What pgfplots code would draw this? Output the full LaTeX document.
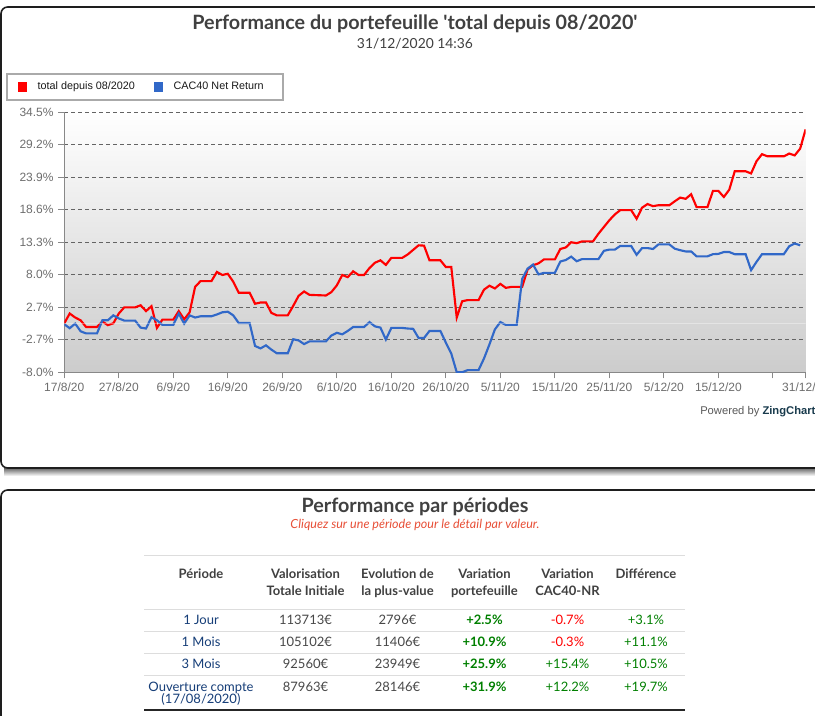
\documentclass[border=0pt]{standalone}
\usepackage{pgfplots}
\pgfplotsset{compat=1.18}
\usepackage{fontspec}
\setmainfont{Lato}
\newfontfamily\arial{Liberation Sans}

\definecolor{zred}{RGB}{255,0,0}
\definecolor{zblue}{RGB}{49,104,200}
\definecolor{titlegray}{RGB}{64,64,64}
\definecolor{labelgray}{RGB}{110,110,110}
\definecolor{gridgray}{RGB}{100,100,100}
\definecolor{axisgray}{RGB}{136,136,136}
\definecolor{legendgray}{RGB}{170,170,170}
\definecolor{linkblue}{RGB}{22,62,120}
\definecolor{posgreen}{RGB}{0,128,0}
\definecolor{negred}{RGB}{255,0,0}
\definecolor{hintred}{RGB}{232,80,56}
\definecolor{rulegray}{RGB}{221,221,221}
\definecolor{valgray}{RGB}{72,72,72}
\definecolor{zingblue}{RGB}{24,58,76}
\definecolor{panelborder}{RGB}{30,30,30}

% daily performance, day 0 = 17/08/2020
\pgfplotstableread{
day val
0 0.0
1 1.6
2 0.95
3 0.5
4 -0.6
6 -0.6
7 0.3
8 -0.3
9 0.0
10 1.6
11 2.6
13 2.6
14 2.95
15 2.0
16 2.8
17 -0.75
18 0.6
20 0.6
21 2.0
22 0.65
23 1.8
24 5.95
25 6.9
27 6.9
28 8.4
29 7.9
30 8.1
31 6.8
32 5.0
34 5.0
35 3.2
36 3.4
37 3.4
38 1.7
39 1.3
41 1.3
42 2.85
43 4.5
44 5.2
45 4.65
48 4.55
49 5.1
50 6.2
51 7.9
52 7.55
53 8.5
54 7.9
55 7.9
56 9.05
57 9.9
58 10.3
59 9.55
60 10.7
62 10.7
63 11.25
64 12.0
65 12.75
66 12.7
67 10.3
69 10.3
70 9.2
71 9.2
72 0.95
73 3.6
74 3.8
76 3.8
77 5.5
78 6.15
79 5.7
80 6.45
81 5.8
82 5.95
84 5.95
85 8.8
86 9.5
87 9.8
88 10.45
90 10.45
91 12.15
92 12.4
93 13.25
94 13.1
95 13.4
97 13.4
98 14.65
99 15.75
100 16.85
101 17.8
102 18.5
104 18.5
105 17.1
106 18.9
107 19.5
108 19.15
109 19.3
111 19.3
112 19.95
113 20.55
114 20.35
115 21.1
116 19.0
118 19.0
119 21.65
120 21.65
121 20.65
122 21.85
123 24.85
125 24.85
126 24.5
127 26.5
128 27.65
129 27.3
132 27.3
133 27.75
134 27.45
135 28.55
136 31.7
}\portefeuille

\pgfplotstableread{
day val
0 -0.15
1 -0.8
2 -0.05
3 -1.3
4 -1.65
6 -1.65
7 0.5
8 0.5
9 1.3
10 0.8
11 0.45
13 0.45
14 -0.7
15 -0.85
16 1.0
17 0.5
18 -0.25
20 -0.25
21 1.6
22 -0.05
23 1.3
24 0.95
25 1.15
27 1.15
28 1.45
29 1.8
30 1.9
31 1.3
32 0.05
34 0.05
35 -3.7
36 -4.1
37 -3.6
38 -4.3
39 -4.9
41 -4.9
42 -2.6
43 -2.8
44 -3.4
45 -2.95
48 -2.95
49 -2.0
50 -1.55
51 -1.8
52 -1.25
53 -0.6
55 -0.6
56 0.2
57 -0.5
58 -0.7
59 -2.65
60 -0.75
62 -0.75
63 -0.85
64 -0.9
65 -2.4
66 -2.4
67 -1.25
69 -1.25
70 -3.15
71 -4.95
72 -8.0
73 -8.0
74 -7.65
76 -7.65
77 -5.75
78 -3.45
79 -1.0
80 0.2
81 -0.25
83 -0.25
84 7.25
85 8.95
86 9.6
87 8.0
88 8.25
90 8.25
91 10.1
92 10.35
93 10.9
94 10.15
95 10.5
98 10.5
99 11.85
100 12.05
101 12.05
102 12.65
104 12.65
105 11.2
106 12.3
107 12.3
108 12.15
109 12.9
111 12.9
112 12.2
113 11.95
114 11.75
115 11.75
116 10.95
118 10.95
119 11.3
120 11.35
121 11.65
122 11.65
123 11.3
125 11.3
126 8.7
127 10.05
128 11.3
129 11.3
132 11.3
133 12.6
134 13.05
135 12.75
}\cac

\tikzset{
  td/.style={anchor=base, inner sep=0pt, font=\fontsize{9.75pt}{11pt}\selectfont, text=valgray},
  th/.style={td, font=\bfseries\fontsize{9.75pt}{11pt}\selectfont, text=titlegray},
  tp/.style={td, text=linkblue},
  tg/.style={td, text=posgreen, font=\bfseries\fontsize{9.75pt}{11pt}\selectfont},
}

\begin{document}
\begin{tikzpicture}
\useasboundingbox (0pt,0pt) rectangle (611.25pt,-537pt);
\fill[white] (0pt,0pt) rectangle (611.25pt,-537pt);

% panels (pixel coordinates)
\begin{scope}[x=0.75pt,y=-0.75pt]
  \clip (0,0) rectangle (815,716);
  \shade[top color=black!60, bottom color=white] (4,468) rectangle (840,476);
  \draw[panelborder, line width=1.2pt, fill=white, rounded corners=5pt]
    (850,7) -- (1,7) -- (1,468) -- (850,468);
  \draw[panelborder, line width=1.2pt, fill=white, rounded corners=5pt]
    (850,490) -- (1,490) -- (1,740);
\end{scope}

\begin{axis}[
  at={(48.2pt,-279.2pt)}, anchor=south west,
  scale only axis, width=556pt, height=195pt,
  xmin=0, xmax=136, ymin=-8, ymax=34.5,
  axis x line*=bottom, axis y line*=left,
  axis line style={draw=axisgray, line width=0.75pt, -},
  axis background/.style={shade, top color=white, bottom color=black!20},
  xtick={0,10,20,30,40,50,60,70,80,90,100,110,120,130,136},
  xticklabels={17/8/20,27/8/20,6/9/20,16/9/20,26/9/20,6/10/20,16/10/20,26/10/20,5/11/20,15/11/20,25/11/20,5/12/20,15/12/20,{},31/12/20},
  ytick={-8,-2.6875,2.625,7.9375,13.25,18.5625,23.875,29.1875,34.5},
  yticklabels={-8.0\%,-2.7\%,2.7\%,8.0\%,13.3\%,18.6\%,23.9\%,29.2\%,34.5\%},
  tick align=outside, major tick length=4.5pt,
  tick style={draw=axisgray, line width=0.75pt},
  ymajorgrids,
  grid style={draw=gridgray, line width=0.75pt, dash pattern=on 3pt off 2.25pt},
  ticklabel style={font=\arial\fontsize{9pt}{10pt}\selectfont, text=labelgray},
  legend style={at={(axis description cs:-0.0785,1.044)}, anchor=south west,
    draw=legendgray, line width=1.5pt, fill=white,
    inner xsep=0pt, inner ysep=0pt,
    font=\arial\fontsize{8.1pt}{9pt}\selectfont, text=black!90,
    /tikz/every even column/.append style={column sep=4pt}},
  legend columns=2,
  legend image code/.code={%
    \fill[#1, draw=none] (0pt,-3.75pt) rectangle (7pt,3.75pt);
    \path[draw=none, fill=none] (-8.25pt,-9.75pt) rectangle (12.75pt,9.75pt);},
]
\addplot[zred, line width=1.6pt] table[x=day, y=val] {\portefeuille};
\addplot[zblue, line width=1.6pt] table[x=day, y=val] {\cac};
\addplot[white, opacity=0.35, line width=0.75pt, forget plot] coordinates {(0,0) (136,0)};
\legend{total depuis 08/2020, CAC40 Net Return\kern12.3pt}
\end{axis}

\begin{scope}[x=0.75pt,y=-0.75pt]
  % chart titles
  \node[anchor=base, inner sep=0pt, text=titlegray, font=\bfseries\fontsize{14.8pt}{18pt}\selectfont]
    at (415,29.5) {Performance du portefeuille \textquotesingle total depuis 08/2020\textquotesingle};
  \node[anchor=base, inner sep=0pt, text=titlegray, font=\fontsize{10.4pt}{12pt}\selectfont]
    at (415,48.3) {31/12/2020 14:36};
  \node[anchor=base west, inner sep=0pt, font=\arial\fontsize{8.4pt}{9pt}\selectfont]
    at (700,414.5) {\textcolor{black!65}{Powered by} \textcolor{zingblue}{\bfseries ZingChart}};

  % table
  \node[anchor=base, inner sep=0pt, text=titlegray, font=\bfseries\fontsize{14.8pt}{18pt}\selectfont]
    at (415,512.5) {Performance par périodes};
  \node[anchor=base, inner sep=0pt, text=hintred, font=\itshape\fontsize{9.4pt}{11pt}\selectfont]
    at (415,528.5) {Cliquez sur une période pour le détail par valeur.};

  \draw[rulegray, line width=0.9pt] (144,555.5) -- (685,555.5);
  \foreach \yy in {609.3,631.3,653.3,675.3}
    \draw[rulegray, line width=0.9pt] (144,\yy) -- (685,\yy);
  \draw[black!85, line width=1.5pt] (144,710) -- (685,710);

  \node[th] at (201,578.2) {Période};
  \node[th] at (305.5,578.2) {Valorisation};
  \node[th] at (305.5,595.7) {Totale Initiale};
  \node[th] at (397.5,578.2) {Evolution de};
  \node[th] at (397.5,595.7) {la plus-value};
  \node[th] at (484.5,578.2) {Variation};
  \node[th] at (484.5,595.7) {portefeuille};
  \node[th] at (567.5,578.2) {Variation};
  \node[th] at (567.5,595.7) {CAC40-NR};
  \node[th] at (646,578.2) {Différence};

  \node[tp] at (201,624.7) {1 Jour};
  \node[td] at (305.5,624.7) {113713€};
  \node[td] at (397.5,624.7) {2796€};
  \node[tg] at (484.5,624.7) {+2.5\%};
  \node[td, text=negred] at (567.5,624.7) {-0.7\%};
  \node[td, text=posgreen] at (646,624.7) {+3.1\%};

  \node[tp] at (201,647) {1 Mois};
  \node[td] at (305.5,647) {105102€};
  \node[td] at (397.5,647) {11406€};
  \node[tg] at (484.5,647) {+10.9\%};
  \node[td, text=negred] at (567.5,647) {-0.3\%};
  \node[td, text=posgreen] at (646,647) {+11.1\%};

  \node[tp] at (201,669) {3 Mois};
  \node[td] at (305.5,669) {92560€};
  \node[td] at (397.5,669) {23949€};
  \node[tg] at (484.5,669) {+25.9\%};
  \node[td, text=posgreen] at (567.5,669) {+15.4\%};
  \node[td, text=posgreen] at (646,669) {+10.5\%};

  \node[tp] at (201,691.2) {Ouverture compte};
  \node[tp] at (201,703.7) {(17/08/2020)};
  \node[td] at (305.5,691.2) {87963€};
  \node[td] at (397.5,691.2) {28146€};
  \node[tg] at (484.5,691.2) {+31.9\%};
  \node[td, text=posgreen] at (567.5,691.2) {+12.2\%};
  \node[td, text=posgreen] at (646,691.2) {+19.7\%};
\end{scope}
\end{tikzpicture}
\end{document}
